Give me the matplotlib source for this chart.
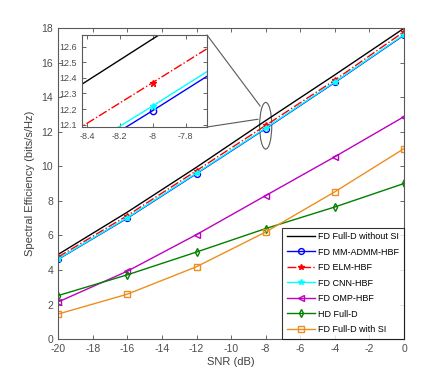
import matplotlib
matplotlib.use('Agg')
import matplotlib.pyplot as plt
from matplotlib.patches import Ellipse, ConnectionPatch

plt.rcParams['font.family'] = ['Liberation Sans', 'DejaVu Sans']
plt.rcParams['axes.unicode_minus'] = False

snr = [-20, -16, -12, -8, -4, 0]
fd_no_si = [4.9, 7.35, 9.95, 12.65, 15.3, 18.0]
mm_admm = [4.62, 7.0, 9.58, 12.19, 14.86, 17.6]
elm = [4.75, 7.15, 9.75, 12.37, 15.0, 17.8]
cnn = [4.64, 7.03, 9.61, 12.22, 14.89, 17.63]
omp = [2.15, 3.93, 6.05, 8.31, 10.56, 12.88]
hd = [2.52, 3.72, 5.04, 6.4, 7.65, 9.01]
fd_si = [1.45, 2.6, 4.19, 6.2, 8.53, 11.03]

labels = ['FD Full-D without SI', 'FD MM-ADMM-HBF', 'FD ELM-HBF', 'FD CNN-HBF',
          'FD OMP-HBF', 'HD Full-D', 'FD Full-D with SI']

orange = '#EE8E1F'
green = '#008000'


def draw(ax, ms=4.2):
    ax.plot(snr, fd_no_si, '-', color='k', lw=1.0, label=labels[0])
    ax.plot(snr, mm_admm, '-', color='b', lw=1.0, marker='o', mfc='none', ms=ms, label=labels[1])
    ax.plot(snr, elm, '-.', color='r', lw=1.0, marker='*', ms=ms, label=labels[2])
    ax.plot(snr, cnn, '-', color='cyan', lw=1.0, marker='*', ms=ms, label=labels[3])
    ax.plot(snr, omp, '-', color='m', lw=1.0, marker='<', mfc='none', ms=ms, label=labels[4])
    ax.plot(snr, hd, '-', color=green, lw=1.0, marker='d', mfc='none', ms=ms, label=labels[5])
    ax.plot(snr, fd_si, '-', color=orange, lw=1.0, marker='s', mfc='none', ms=ms - 0.5, label=labels[6])


def style(ax, fs):
    for s in ax.spines.values():
        s.set_color('0.35')
        s.set_linewidth(0.8)
    ax.tick_params(direction='in', colors='0.3', labelsize=fs, length=3, width=0.6,
                   top=True, right=True)


fig = plt.figure(figsize=(4.47, 3.81), dpi=100)
ax = fig.add_axes([0.130, 0.110, 0.774, 0.816])
draw(ax)
ax.set_xlim(-20, 0)
ax.set_ylim(0, 18)
ax.set_xticks(range(-20, 1, 2))
ax.set_yticks(range(0, 19, 2))
style(ax, 7.5)
ax.set_xlabel('SNR (dB)', fontsize=8, color='0.25', labelpad=2)
ax.set_ylabel('Spectral Efficiency (bits/s/Hz)', fontsize=8, color='0.25', labelpad=5)

leg = ax.legend(loc='lower right', fontsize=6.5, frameon=True, fancybox=False,
                edgecolor='k', borderaxespad=0.05, handlelength=3.2,
                labelspacing=0.72, handletextpad=0.3, borderpad=0.5)
leg.get_frame().set_linewidth(0.8)

# zoom ellipse
ell = Ellipse((-8, 12.35), width=0.7, height=2.7, fill=False, edgecolor='0.35', lw=0.8)
ax.add_patch(ell)

# inset
axin = fig.add_axes([82 / 447, 1 - 127 / 381, 125 / 447, 92 / 381])
draw(axin, ms=4.5)
axin.set_xlim(-8.43, -7.67)
axin.set_ylim(12.085, 12.675)
axin.set_xticks([-8.4, -8.2, -8, -7.8])
axin.set_xticklabels(['-8.4', '-8.2', '-8', '-7.8'])
axin.set_yticks([12.1, 12.2, 12.3, 12.4, 12.5, 12.6])
style(axin, 6.5)

for xa, xb in [((1, 1), (-8.32, 13.49)), ((1, 0), (-8.44, 12.73))]:
    con = ConnectionPatch(xyA=xa, coordsA=axin.transAxes, xyB=xb, coordsB=ax.transData,
                          color='0.35', lw=0.8)
    fig.add_artist(con)

fig.savefig('out.png', dpi=100)
